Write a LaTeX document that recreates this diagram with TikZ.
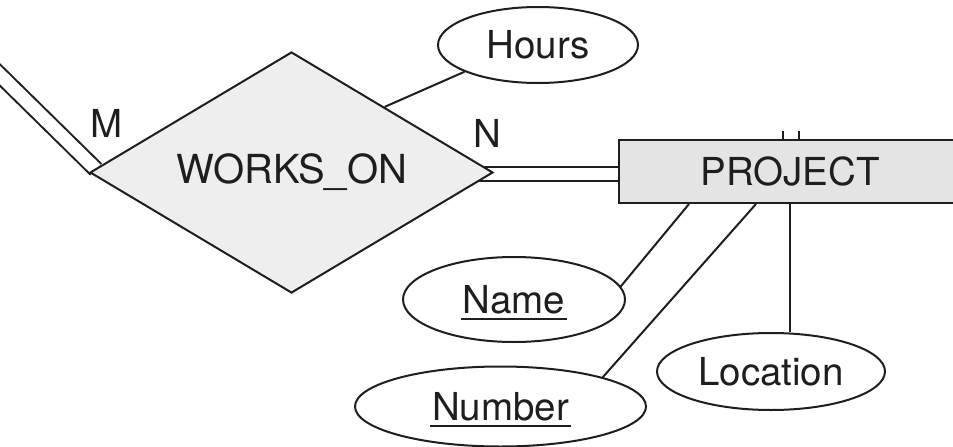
\documentclass[tikz,border=0pt]{standalone}
\usepackage{fontspec}
\setmainfont{TeX Gyre Heros}
\usetikzlibrary{shapes.geometric,backgrounds,calc}
\definecolor{ink}{HTML}{1E1E1E}
\definecolor{relfill}{HTML}{EEEEEE}
\definecolor{entfill}{HTML}{E4E4E4}
\newcommand\keyul[1]{\setbox0\hbox{#1}\rlap{\hspace{-2pt}\smash{\raisebox{-7pt}{\rule{\dimexpr\wd0+4pt\relax}{2pt}}}}\box0}
\begin{document}
\begin{tikzpicture}[x=1pt,y=-1pt,line width=2pt,color=ink,
  every node/.style={font=\fontsize{38.5}{46}\selectfont},
  attr/.style={ellipse,draw=ink,fill=white,inner sep=0pt},
  rel/.style={diamond,draw=ink,fill=relfill,inner sep=0pt,aspect=1.67,
    minimum width=403pt,minimum height=241pt},
  ent/.style={rectangle,draw=ink,fill=entfill,inner sep=0pt,
    minimum width=342pt,minimum height=63pt},
  link/.style={draw=ink,line width=2pt},
  dbl/.style={draw=ink,double=white,line width=2pt,double distance=#1}]
\useasboundingbox (0,0) rectangle (953,447);
\clip (0,0) rectangle (953,447);

% nodes
\node[rel] (wo) at (291.5,172.5) {\fontsize{40}{46}\selectfont WORKS\_ON};
\node[ent] (proj) at (790,171.5) {PROJECT};
\node[attr,minimum width=200pt,minimum height=76pt] (hours) at (538,45) {Hours};
\node[attr,minimum width=222pt,minimum height=85pt] (name) at (514,299.5) {\keyul{Name}};
\node[attr,minimum width=291pt,minimum height=80pt] (number) at (500.5,406.5) {\keyul{Number}};
\node[attr,minimum width=228pt,minimum height=77pt] (loc) at (771,371.5) {Location};
\node (m) at (107,123.5) {M};
\node (n) at (487,133) {N};

% helper coordinates
\coordinate (lft) at (-20,55.4);
\coordinate (wl) at ([xshift=7pt,yshift=3.1pt]wo.west);
\coordinate (pw) at ([yshift=-2.5pt]proj.west);
\coordinate (woin) at ([xshift=-25pt]wo.east);
\coordinate (topstub) at (791,131);
\coordinate (hfoot) at ($(wo.north)!0.46!(wo.east)$);
\coordinate (pname) at ([xshift=71pt]proj.south west);
\coordinate (pnum) at ([xshift=138pt]proj.south west);
\coordinate (ploc) at ([xshift=172pt]proj.south west);

\begin{scope}[on background layer]
  \draw[dbl=13.1pt] (lft) -- (wl);
  \draw[dbl=11.4pt] (pw) -- (pw -| woin);
  \draw[dbl=14pt] (topstub) -- (topstub |- proj.north);
\end{scope}

\draw[link] (hfoot) -- (hours.200);
\draw[link] (pname) -- (name.7.5);
\draw[link] (pnum) -- (number.16);
\draw[link] (ploc) -- (ploc |- loc.north);
\end{tikzpicture}
\end{document}
